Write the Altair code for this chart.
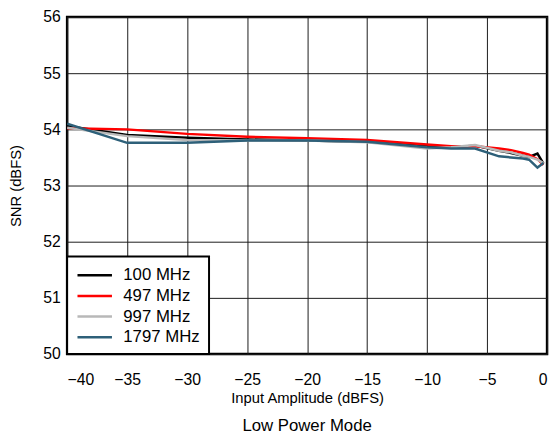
import altair as alt
import pandas as pd

series_names = ["100 MHz", "497 MHz", "997 MHz", "1797 MHz"]
series_colors = ["#000000", "#ff0000", "#b8b8b8", "#2e6079"]

amplitude = [-40, -35, -30, -25, -20, -15, -10, -8, -6, -4, -3, -2, -1.5, -0.8, -0.3]
snr_100 = [54.06, 53.90, 53.85, 53.82, 53.80, 53.78, 53.70, 53.68, 53.71, 53.62, 53.58, 53.53, 53.51, 53.57, 53.39]
snr_497 = [54.02, 54.00, 53.92, 53.87, 53.84, 53.81, 53.73, 53.70, 53.70, 53.66, 53.63, 53.58, 53.55, 53.47, 53.37]
snr_997 = [54.03, 53.88, 53.81, 53.80, 53.80, 53.77, 53.66, 53.68, 53.72, 53.62, 53.59, 53.53, 53.51, 53.46, 53.40]
snr_1797 = [54.10, 53.76, 53.76, 53.80, 53.80, 53.78, 53.68, 53.66, 53.66, 53.52, 53.50, 53.48, 53.46, 53.32, 53.40]

x_ticks = [-40, -35, -30, -25, -20, -15, -10, -5, 0]
y_ticks = [50, 51, 52, 53, 54, 55, 56]

rows = []
for name, vals in zip(series_names, [snr_100, snr_497, snr_997, snr_1797]):
    for i, (a, v) in enumerate(zip(amplitude, vals)):
        rows.append({"series": name, "amp": a, "snr": v, "idx": i})
df = pd.DataFrame(rows)

FONT = "Liberation Sans"

chart = (
    alt.Chart(df)
    .mark_line(strokeWidth=2.5, clip=True)
    .encode(
        x=alt.X(
            "amp:Q",
            scale=alt.Scale(domain=[-40, 0], nice=False, zero=False),
            axis=alt.Axis(
                title="Input Amplitude (dBFS)",
                values=x_ticks,
                format="d",
                labelFontSize=16,
                titleFontSize=15,
                labelPadding=18,
                titlePadding=3,
                ticks=False,
                domain=False,
                gridColor="#1a1a1a",
                gridWidth=1,
                gridOpacity=1,
                labelColor="black",
                titleColor="black",
                titleFontWeight="normal",
                labelFont=FONT,
                titleFont=FONT,
            ),
        ),
        y=alt.Y(
            "snr:Q",
            scale=alt.Scale(domain=[50, 56], nice=False, zero=False),
            axis=alt.Axis(
                title="SNR (dBFS)",
                values=y_ticks,
                format="d",
                labelFontSize=16,
                titleFontSize=15,
                labelPadding=7,
                titlePadding=20,
                ticks=False,
                domain=False,
                gridColor="#1a1a1a",
                gridWidth=1,
                gridOpacity=1,
                labelColor="black",
                titleColor="black",
                titleFontWeight="normal",
                labelFont=FONT,
                titleFont=FONT,
            ),
        ),
        color=alt.Color(
            "series:N",
            scale=alt.Scale(domain=series_names, range=series_colors),
            sort=series_names,
            legend=alt.Legend(
                title=None,
                orient="bottom-left",
                offset=0,
                symbolType="M-2,0H2",
                symbolSize=306,
                symbolStrokeWidth=2.5,
                symbolOffset=9,
                labelFontSize=17,
                labelFont=FONT,
                labelColor="black",
                labelOffset=19,
                rowPadding=3,
                padding=9,
                strokeColor="black",
                fillColor="white",
                cornerRadius=0,
            ),
        ),
        order=alt.Order("idx:Q"),
    )
    .properties(
        width=487,
        height=342,
        autosize=alt.AutoSizeParams(type="none"),
        padding={"left": 60, "top": 6, "right": 4, "bottom": 80},
        title=alt.Title(
            "Low Power Mode",
            orient="bottom",
            fontSize=17,
            font=FONT,
            fontWeight="normal",
            color="black",
            offset=13,
        ),
    )
    .configure_view(stroke="black", strokeWidth=2.5)
    .configure_legend(strokeWidth=2)
)

chart.save("out.html", embed_options={"renderer": "svg", "actions": False})
